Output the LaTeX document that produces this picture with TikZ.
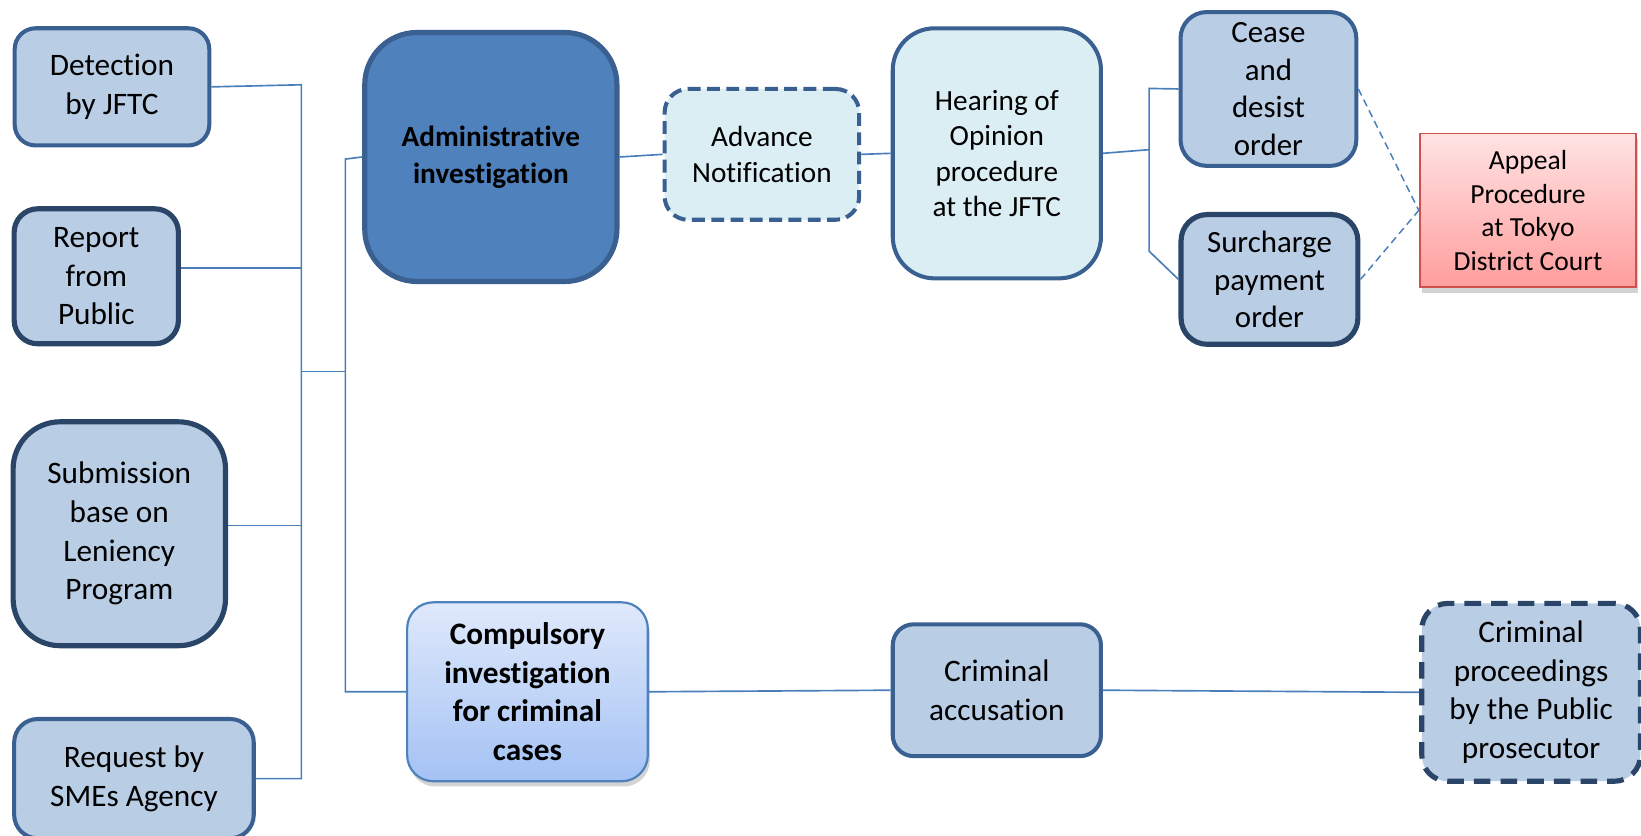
\documentclass[tikz,border=0pt]{standalone}
\usepackage{fontspec}
\setmainfont{Carlito}[Ligatures=NoCommon]
\usetikzlibrary{shadows}
\definecolor{boxfill}{HTML}{B9CDE5}
\definecolor{boxline}{HTML}{3A6092}
\definecolor{darkline}{HTML}{2A4568}
\definecolor{admfill}{HTML}{4F81BD}
\definecolor{paleblue}{HTML}{DBEEF4}
\definecolor{linkblue}{HTML}{4A7EBB}
\definecolor{appline}{HTML}{D0504D}
\definecolor{apptop}{HTML}{FFE3E3}
\definecolor{appbot}{HTML}{FF9D9D}
\definecolor{comptop}{HTML}{DFE9FB}
\definecolor{compbot}{HTML}{A4C2F4}
\begin{document}
\begin{tikzpicture}[x=0.02cm,y=-0.02cm,
	block/.style ={rectangle, rounded corners=0.45cm, draw=boxline, fill=boxfill, line width=2.2pt, align=center, inner sep=0pt, font=\fontsize{17}{21}\selectfont},
	darkblock/.style ={block, draw=darkline, line width=2.8pt},
	paleblock/.style ={block, fill=paleblue, font=\fontsize{15.9}{19.3}\selectfont},
	link/.style ={draw=linkblue, line width=0.9pt},
	dlink/.style ={draw=linkblue, line width=0.8pt, dash pattern=on 4pt off 2.5pt}]
	\useasboundingbox (0,0) rectangle (1568,798);
	\node[block, minimum width=3.72cm, minimum height=2.24cm, rounded corners=0.4cm] (det) at (107,83) {Detection\\by JFTC};
	\node[darkblock, minimum width=3.14cm, minimum height=2.58cm] (rep) at (92,264) {Report\\from\\Public};
	\node[darkblock, minimum width=4.06cm, minimum height=4.28cm, rounded corners=0.9cm] (sub) at (114,510) {Submission\\base on\\Leniency\\Program};
	\node[block, minimum width=4.58cm, minimum height=2.28cm] (req) at (128,744) {Request by\\SMEs Agency};
	\node[block, fill=admfill, line width=2.8pt, rounded corners=1cm, minimum width=4.82cm, minimum height=4.76cm, font=\fontsize{15.9}{19.9}\selectfont\bfseries] (adm) at (469,150) {Administrative\\investigation};
	\node[paleblock, dash pattern=on 7pt off 3.5pt, minimum width=3.72cm, minimum height=2.5cm] (adv) at (728,147.5) {Advance\\Notification};
	\node[paleblock, rounded corners=0.8cm, minimum width=3.98cm, minimum height=4.78cm] (hear) at (952.5,146.5) {Hearing of\\Opinion\\procedure\\at the JFTC};
	\node[block, rounded corners=0.5cm, minimum width=3.36cm, minimum height=2.94cm, font=\fontsize{16.8}{20.5}\selectfont] (cease) at (1212,85) {Cease\\and\\desist\\order};
	\node[darkblock, rounded corners=0.5cm, minimum width=3.38cm, minimum height=2.48cm, font=\fontsize{16.8}{20.5}\selectfont] (sur) at (1213,267) {Surcharge\\payment\\order};
	\node[rectangle, draw=appline, line width=1pt, top color=apptop, bottom color=appbot, align=center, inner sep=0pt, minimum width=4.14cm, minimum height=2.94cm, font=\fontsize{15}{18.2}\selectfont, drop shadow={shadow xshift=0.04cm, shadow yshift=-0.1cm, opacity=0.35}] (app) at (1460,201) {Appeal\\Procedure\\at Tokyo\\District Court};
	\node[block, draw=admfill, line width=1.2pt, top color=comptop, bottom color=compbot, rounded corners=0.5cm, minimum width=4.6cm, minimum height=3.42cm, font=\fontsize{17}{21}\selectfont\bfseries, drop shadow={shadow xshift=0.04cm, shadow yshift=-0.1cm, opacity=0.35}] (comp) at (504,661) {Compulsory\\investigation\\for criminal\\cases};
	\node[block, minimum width=3.98cm, minimum height=2.52cm, rounded corners=0.4cm] (acc) at (952.5,659.5) {Criminal\\accusation};
	\node[darkblock, dash pattern=on 9pt off 5.5pt, rounded corners=0.5cm, minimum width=4.18cm, minimum height=3.4cm] (proc) at (1463,661.5) {Criminal\\proceedings\\by the Public\\prosecutor};
	\coordinate (bt) at (288,81);
	\coordinate (j1) at (288,355);
	\coordinate (j2) at (330,355);
	\coordinate (c1) at (330,152);
	\coordinate (hb) at (1098,143);
	\coordinate (h1) at (1098,84.5);
	\coordinate (h2) at (1098,240);
	\draw[link] (det.east) -- (bt) -- (bt |- req.east) -- (req.east);
	\draw[link] ([yshift=0.16cm]rep.east) -| (j1);
	\draw[link] ([yshift=0.16cm]sub.east) -| (j1);
	\draw[link] (j1) -- (j2);
	\draw[link] (adm.west) -- (c1) -- (c1 |- comp.west) -- (comp.west);
	\draw[link] (adm.east) -- (adv.west);
	\draw[link] (adv.east) -- (hear.west);
	\draw[link] (hear.east) -- (hb);
	\draw[link] (cease.west) -- (h1) -- (h2) -- (sur.west);
	\draw[dlink] (cease.east) -- (app.west);
	\draw[dlink] (sur.east) -- (app.west);
	\draw[link] (comp.east) -- (acc.west);
	\draw[link] (acc.east) -- (proc.west);
\end{tikzpicture}
\end{document}
